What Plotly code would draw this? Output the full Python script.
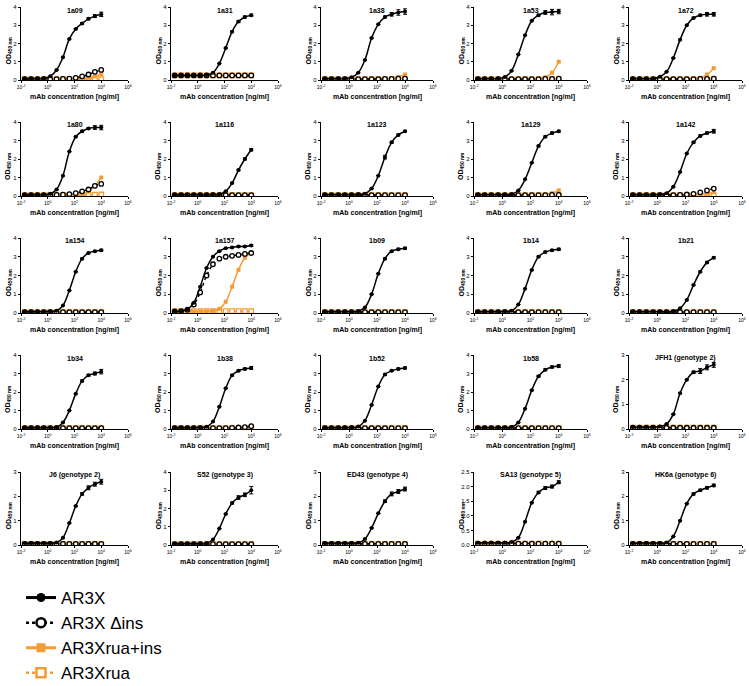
import plotly.graph_objects as go

# ---------------- data ----------------
CONC = [0.0188, 0.0565, 0.169, 0.508, 1.524, 4.572, 13.72, 41.15, 123.5, 370.4, 1111, 3333, 10000]

PANELS = ["1a09", "1a31", "1a38", "1a53", "1a72",
          "1a80", "1a116", "1a123", "1a129", "1a142",
          "1a154", "1a157", "1b09", "1b14", "1b21",
          "1b34", "1b38", "1b52", "1b58", "JFH1 (genotype 2)",
          "J6 (genotype 2)", "S52 (genotype 3)", "ED43 (genotype 4)", "SA13 (genotype 5)", "HK6a (genotype 6)"]

Y_MAX = [4, 4, 4, 4, 4,
         4, 4, 4, 4, 4,
         4, 4, 4, 4, 4,
         4, 4, 4, 4, 3,
         3, 4, 3, 2.5, 3]

Y_TICKS_4 = [0, 1, 2, 3, 4]
Y_TICKS_3 = [0, 1, 2, 3]
Y_TICKS_25 = [0, 0.5, 1.0, 1.5, 2.0, 2.5]
Y_TICKTEXT_25 = ["0.0", "0.5", "1.0", "1.5", "2.0", "2.5"]

X_TICK_VALS = [0.01, 1, 100, 10000, 1000000]
X_TICK_TEXT = ["10<sup>-2</sup>", "10<sup>0</sup>", "10<sup>2</sup>", "10<sup>4</sup>", "10<sup>6</sup>"]

SERIES_NAMES = ["AR3X", "AR3X \u0394ins", "AR3Xrua+ins", "AR3Xrua"]

AR3X = [
    [0.08, 0.08, 0.08, 0.09, 0.20, 0.55, 1.25, 2.25, 2.80, 3.10, 3.35, 3.50, 3.60],  # 1a09
    [0.25, 0.25, 0.25, 0.25, 0.25, 0.27, 0.40, 0.90, 1.75, 2.65, 3.20, 3.45, 3.55],  # 1a31
    [0.08, 0.08, 0.08, 0.08, 0.15, 0.40, 1.10, 2.30, 3.05, 3.45, 3.60, 3.70, 3.75],  # 1a38
    [0.08, 0.08, 0.08, 0.08, 0.16, 0.50, 1.40, 2.45, 3.25, 3.55, 3.70, 3.72, 3.75],  # 1a53
    [0.08, 0.08, 0.08, 0.08, 0.18, 0.45, 1.20, 2.20, 3.00, 3.40, 3.55, 3.60, 3.60],  # 1a72
    [0.08, 0.08, 0.08, 0.08, 0.12, 0.35, 1.10, 2.40, 3.20, 3.50, 3.65, 3.70, 3.70],  # 1a80
    [0.08, 0.08, 0.08, 0.08, 0.08, 0.08, 0.09, 0.10, 0.25, 0.70, 1.40, 2.00, 2.50],  # 1a116
    [0.08, 0.08, 0.08, 0.08, 0.08, 0.09, 0.12, 0.40, 1.10, 2.10, 2.90, 3.30, 3.50],  # 1a123
    [0.08, 0.08, 0.08, 0.08, 0.08, 0.10, 0.30, 0.90, 1.80, 2.70, 3.20, 3.40, 3.50],  # 1a129
    [0.08, 0.08, 0.08, 0.08, 0.09, 0.15, 0.50, 1.30, 2.30, 2.90, 3.25, 3.40, 3.50],  # 1a142
    [0.08, 0.08, 0.08, 0.08, 0.09, 0.12, 0.40, 1.20, 2.20, 2.90, 3.20, 3.30, 3.35],  # 1a154
    [0.08, 0.10, 0.20, 0.55, 1.40, 2.40, 3.00, 3.30, 3.45, 3.50, 3.55, 3.55, 3.60],  # 1a157
    [0.08, 0.08, 0.08, 0.08, 0.08, 0.10, 0.30, 1.00, 2.10, 2.90, 3.30, 3.40, 3.45],  # 1b09
    [0.08, 0.08, 0.08, 0.08, 0.09, 0.12, 0.45, 1.30, 2.30, 3.00, 3.25, 3.35, 3.40],  # 1b14
    [0.08, 0.08, 0.08, 0.08, 0.08, 0.08, 0.10, 0.25, 0.70, 1.50, 2.20, 2.70, 2.95],  # 1b21
    [0.08, 0.08, 0.08, 0.08, 0.08, 0.10, 0.35, 1.00, 1.90, 2.60, 2.90, 3.00, 3.10],  # 1b34
    [0.08, 0.08, 0.08, 0.08, 0.09, 0.12, 0.40, 1.20, 2.20, 2.90, 3.15, 3.25, 3.30],  # 1b38
    [0.08, 0.08, 0.08, 0.08, 0.09, 0.13, 0.45, 1.30, 2.30, 2.95, 3.15, 3.25, 3.30],  # 1b52
    [0.08, 0.08, 0.08, 0.08, 0.08, 0.11, 0.35, 1.10, 2.10, 2.85, 3.20, 3.35, 3.40],  # 1b58
    [0.08, 0.08, 0.08, 0.08, 0.10, 0.20, 0.60, 1.45, 2.00, 2.30, 2.35, 2.50, 2.60],  # JFH1
    [0.08, 0.08, 0.08, 0.08, 0.08, 0.10, 0.30, 0.90, 1.60, 2.10, 2.35, 2.50, 2.60],  # J6
    [0.08, 0.08, 0.08, 0.08, 0.08, 0.10, 0.30, 0.90, 1.70, 2.30, 2.60, 2.75, 3.00],  # S52
    [0.08, 0.08, 0.08, 0.08, 0.08, 0.09, 0.25, 0.70, 1.30, 1.80, 2.10, 2.20, 2.30],  # ED43
    [0.08, 0.08, 0.08, 0.08, 0.08, 0.10, 0.25, 0.80, 1.45, 1.80, 1.95, 2.00, 2.15],  # SA13
    [0.08, 0.08, 0.08, 0.08, 0.08, 0.10, 0.35, 1.00, 1.70, 2.10, 2.25, 2.35, 2.45],  # HK6a
]

# error bars of AR3X at the four highest concentrations
AR3X_ERR_TOP = [
    [0.05, 0.05, 0.08, 0.12], [0.03, 0.04, 0.05, 0.06], [0.05, 0.10, 0.15, 0.15], [0.05, 0.10, 0.15, 0.12],
    [0.04, 0.05, 0.10, 0.10], [0.05, 0.05, 0.10, 0.12], [0.03, 0.04, 0.05, 0.06], [0.10, 0.05, 0.05, 0.05],
    [0.04, 0.04, 0.05, 0.05], [0.04, 0.05, 0.05, 0.10], [0.03, 0.04, 0.04, 0.05], [0.03, 0.04, 0.04, 0.05],
    [0.04, 0.04, 0.05, 0.05], [0.03, 0.04, 0.04, 0.05], [0.03, 0.04, 0.05, 0.05], [0.05, 0.05, 0.08, 0.12],
    [0.04, 0.05, 0.05, 0.08], [0.04, 0.04, 0.05, 0.05], [0.04, 0.05, 0.05, 0.08], [0.05, 0.10, 0.10, 0.10],
    [0.05, 0.08, 0.08, 0.10], [0.05, 0.10, 0.10, 0.20], [0.05, 0.08, 0.08, 0.08], [0.04, 0.05, 0.05, 0.05],
    [0.04, 0.04, 0.05, 0.05],
]

AR3X_DINS = [
    [0.05, 0.05, 0.05, 0.05, 0.05, 0.05, 0.06, 0.08, 0.12, 0.20, 0.30, 0.45, 0.55],  # 1a09
    [0.25, 0.25, 0.25, 0.25, 0.25, 0.25, 0.25, 0.25, 0.25, 0.25, 0.25, 0.25, 0.25],  # 1a31
    [0.05, 0.05, 0.05, 0.05, 0.05, 0.05, 0.05, 0.05, 0.05, 0.06, 0.06, 0.07, 0.08],  # 1a38
    [0.05, 0.05, 0.05, 0.05, 0.05, 0.05, 0.05, 0.05, 0.05, 0.05, 0.06, 0.06, 0.07],  # 1a53
    [0.05, 0.05, 0.05, 0.05, 0.05, 0.05, 0.05, 0.05, 0.05, 0.05, 0.06, 0.06, 0.07],  # 1a72
    [0.05, 0.05, 0.05, 0.05, 0.05, 0.06, 0.07, 0.10, 0.15, 0.25, 0.35, 0.55, 0.65],  # 1a80
    [0.05, 0.05, 0.05, 0.05, 0.05, 0.05, 0.05, 0.05, 0.05, 0.05, 0.05, 0.05, 0.05],  # 1a116
    [0.05, 0.05, 0.05, 0.05, 0.05, 0.05, 0.05, 0.05, 0.05, 0.05, 0.05, 0.05, 0.05],  # 1a123
    [0.05, 0.05, 0.05, 0.05, 0.05, 0.05, 0.05, 0.05, 0.05, 0.05, 0.05, 0.06, 0.06],  # 1a129
    [0.05, 0.05, 0.05, 0.05, 0.05, 0.05, 0.05, 0.06, 0.08, 0.12, 0.20, 0.30, 0.40],  # 1a142
    [0.05, 0.05, 0.05, 0.05, 0.05, 0.05, 0.05, 0.05, 0.05, 0.05, 0.05, 0.05, 0.05],  # 1a154
    [0.08, 0.10, 0.18, 0.45, 1.10, 2.00, 2.60, 2.90, 3.00, 3.05, 3.10, 3.15, 3.20],  # 1a157
    [0.05, 0.05, 0.05, 0.05, 0.05, 0.05, 0.05, 0.05, 0.05, 0.05, 0.05, 0.05, 0.05],  # 1b09
    [0.05, 0.05, 0.05, 0.05, 0.05, 0.05, 0.05, 0.05, 0.05, 0.05, 0.05, 0.05, 0.05],  # 1b14
    [0.05, 0.05, 0.05, 0.05, 0.05, 0.05, 0.05, 0.05, 0.05, 0.05, 0.05, 0.05, 0.05],  # 1b21
    [0.05, 0.05, 0.05, 0.05, 0.05, 0.05, 0.05, 0.05, 0.05, 0.05, 0.05, 0.05, 0.05],  # 1b34
    [0.05, 0.05, 0.05, 0.05, 0.05, 0.05, 0.05, 0.05, 0.05, 0.06, 0.08, 0.10, 0.15],  # 1b38
    [0.05, 0.05, 0.05, 0.05, 0.05, 0.05, 0.05, 0.05, 0.05, 0.05, 0.05, 0.05, 0.05],  # 1b52
    [0.05, 0.05, 0.05, 0.05, 0.05, 0.05, 0.05, 0.05, 0.05, 0.05, 0.05, 0.05, 0.05],  # 1b58
    [0.05, 0.05, 0.05, 0.05, 0.05, 0.05, 0.05, 0.05, 0.05, 0.05, 0.05, 0.05, 0.05],  # JFH1
    [0.05, 0.05, 0.05, 0.05, 0.05, 0.05, 0.05, 0.05, 0.05, 0.05, 0.05, 0.05, 0.05],  # J6
    [0.05, 0.05, 0.05, 0.05, 0.05, 0.05, 0.05, 0.05, 0.05, 0.05, 0.05, 0.05, 0.05],  # S52
    [0.05, 0.05, 0.05, 0.05, 0.05, 0.05, 0.05, 0.05, 0.05, 0.05, 0.05, 0.05, 0.05],  # ED43
    [0.05, 0.05, 0.05, 0.05, 0.05, 0.05, 0.05, 0.05, 0.05, 0.05, 0.05, 0.05, 0.05],  # SA13
    [0.05, 0.05, 0.05, 0.05, 0.05, 0.05, 0.05, 0.05, 0.05, 0.05, 0.05, 0.05, 0.05],  # HK6a
]

AR3XRUA_INS = [
    [0.05, 0.05, 0.05, 0.05, 0.05, 0.05, 0.05, 0.05, 0.06, 0.08, 0.12, 0.20, 0.30],  # 1a09
    [0.25, 0.25, 0.25, 0.25, 0.25, 0.25, 0.25, 0.25, 0.25, 0.25, 0.25, 0.25, 0.25],  # 1a31
    [0.05, 0.05, 0.05, 0.05, 0.05, 0.05, 0.05, 0.05, 0.05, 0.06, 0.10, 0.17, 0.30],  # 1a38
    [0.05, 0.05, 0.05, 0.05, 0.05, 0.05, 0.05, 0.05, 0.05, 0.07, 0.15, 0.40, 1.00],  # 1a53
    [0.05, 0.05, 0.05, 0.05, 0.05, 0.05, 0.05, 0.05, 0.05, 0.06, 0.12, 0.30, 0.65],  # 1a72
    [0.05, 0.05, 0.05, 0.05, 0.05, 0.05, 0.05, 0.05, 0.06, 0.10, 0.25, 0.55, 1.00],  # 1a80
    [0.05, 0.05, 0.05, 0.05, 0.05, 0.05, 0.05, 0.05, 0.05, 0.05, 0.05, 0.05, 0.05],  # 1a116
    [0.05, 0.05, 0.05, 0.05, 0.05, 0.05, 0.05, 0.05, 0.05, 0.05, 0.05, 0.06, 0.07],  # 1a123
    [0.05, 0.05, 0.05, 0.05, 0.05, 0.05, 0.05, 0.05, 0.05, 0.06, 0.08, 0.15, 0.30],  # 1a129
    [0.05, 0.05, 0.05, 0.05, 0.05, 0.05, 0.05, 0.05, 0.05, 0.06, 0.08, 0.12, 0.20],  # 1a142
    [0.05, 0.05, 0.05, 0.05, 0.05, 0.05, 0.05, 0.05, 0.05, 0.05, 0.05, 0.05, 0.05],  # 1a154
    [0.08, 0.08, 0.08, 0.08, 0.08, 0.09, 0.11, 0.22, 0.60, 1.40, 2.30, 2.95, 3.20],  # 1a157
    [0.05, 0.05, 0.05, 0.05, 0.05, 0.05, 0.05, 0.05, 0.05, 0.05, 0.05, 0.05, 0.05],  # 1b09
    [0.05, 0.05, 0.05, 0.05, 0.05, 0.05, 0.05, 0.05, 0.05, 0.05, 0.05, 0.05, 0.05],  # 1b14
    [0.05, 0.05, 0.05, 0.05, 0.05, 0.05, 0.05, 0.05, 0.05, 0.05, 0.05, 0.05, 0.05],  # 1b21
    [0.05, 0.05, 0.05, 0.05, 0.05, 0.05, 0.05, 0.05, 0.05, 0.05, 0.05, 0.05, 0.05],  # 1b34
    [0.05, 0.05, 0.05, 0.05, 0.05, 0.05, 0.05, 0.05, 0.05, 0.05, 0.05, 0.06, 0.07],  # 1b38
    [0.05, 0.05, 0.05, 0.05, 0.05, 0.05, 0.05, 0.05, 0.05, 0.05, 0.05, 0.05, 0.05],  # 1b52
    [0.05, 0.05, 0.05, 0.05, 0.05, 0.05, 0.05, 0.05, 0.05, 0.05, 0.05, 0.05, 0.05],  # 1b58
    [0.05, 0.05, 0.05, 0.05, 0.05, 0.05, 0.05, 0.05, 0.05, 0.05, 0.05, 0.05, 0.05],  # JFH1
    [0.05, 0.05, 0.05, 0.05, 0.05, 0.05, 0.05, 0.05, 0.05, 0.05, 0.05, 0.05, 0.05],  # J6
    [0.05, 0.05, 0.05, 0.05, 0.05, 0.05, 0.05, 0.05, 0.05, 0.05, 0.05, 0.05, 0.05],  # S52
    [0.05, 0.05, 0.05, 0.05, 0.05, 0.05, 0.05, 0.05, 0.05, 0.05, 0.05, 0.05, 0.05],  # ED43
    [0.05, 0.05, 0.05, 0.05, 0.05, 0.05, 0.05, 0.05, 0.05, 0.05, 0.05, 0.05, 0.05],  # SA13
    [0.05, 0.05, 0.05, 0.05, 0.05, 0.05, 0.05, 0.05, 0.05, 0.05, 0.05, 0.05, 0.05],  # HK6a
]

AR3XRUA = [
    [0.05, 0.05, 0.05, 0.05, 0.05, 0.05, 0.05, 0.05, 0.05, 0.05, 0.05, 0.05, 0.05],  # 1a09
    [0.25, 0.25, 0.25, 0.25, 0.25, 0.25, 0.25, 0.25, 0.25, 0.25, 0.25, 0.25, 0.25],  # 1a31
    [0.05, 0.05, 0.05, 0.05, 0.05, 0.05, 0.05, 0.05, 0.05, 0.05, 0.05, 0.05, 0.05],  # 1a38
    [0.05, 0.05, 0.05, 0.05, 0.05, 0.05, 0.05, 0.05, 0.05, 0.05, 0.05, 0.05, 0.05],  # 1a53
    [0.05, 0.05, 0.05, 0.05, 0.05, 0.05, 0.05, 0.05, 0.05, 0.05, 0.05, 0.05, 0.05],  # 1a72
    [0.05, 0.05, 0.05, 0.05, 0.05, 0.05, 0.05, 0.05, 0.05, 0.06, 0.06, 0.07, 0.08],  # 1a80
    [0.05, 0.05, 0.05, 0.05, 0.05, 0.05, 0.05, 0.05, 0.05, 0.05, 0.05, 0.05, 0.05],  # 1a116
    [0.05, 0.05, 0.05, 0.05, 0.05, 0.05, 0.05, 0.05, 0.05, 0.05, 0.05, 0.05, 0.05],  # 1a123
    [0.05, 0.05, 0.05, 0.05, 0.05, 0.05, 0.05, 0.05, 0.05, 0.05, 0.05, 0.05, 0.05],  # 1a129
    [0.05, 0.05, 0.05, 0.05, 0.05, 0.05, 0.05, 0.05, 0.05, 0.05, 0.05, 0.05, 0.05],  # 1a142
    [0.05, 0.05, 0.05, 0.05, 0.05, 0.05, 0.05, 0.05, 0.05, 0.05, 0.05, 0.05, 0.05],  # 1a154
    [0.10, 0.10, 0.10, 0.10, 0.10, 0.10, 0.10, 0.10, 0.10, 0.10, 0.10, 0.10, 0.10],  # 1a157
    [0.05, 0.05, 0.05, 0.05, 0.05, 0.05, 0.05, 0.05, 0.05, 0.05, 0.05, 0.05, 0.05],  # 1b09
    [0.05, 0.05, 0.05, 0.05, 0.05, 0.05, 0.05, 0.05, 0.05, 0.05, 0.05, 0.05, 0.05],  # 1b14
    [0.05, 0.05, 0.05, 0.05, 0.05, 0.05, 0.05, 0.05, 0.05, 0.05, 0.05, 0.05, 0.05],  # 1b21
    [0.05, 0.05, 0.05, 0.05, 0.05, 0.05, 0.05, 0.05, 0.05, 0.05, 0.05, 0.05, 0.05],  # 1b34
    [0.05, 0.05, 0.05, 0.05, 0.05, 0.05, 0.05, 0.05, 0.05, 0.05, 0.05, 0.05, 0.05],  # 1b38
    [0.05, 0.05, 0.05, 0.05, 0.05, 0.05, 0.05, 0.05, 0.05, 0.05, 0.05, 0.05, 0.05],  # 1b52
    [0.05, 0.05, 0.05, 0.05, 0.05, 0.05, 0.05, 0.05, 0.05, 0.05, 0.05, 0.05, 0.05],  # 1b58
    [0.05, 0.05, 0.05, 0.05, 0.05, 0.05, 0.05, 0.05, 0.05, 0.05, 0.05, 0.05, 0.05],  # JFH1
    [0.05, 0.05, 0.05, 0.05, 0.05, 0.05, 0.05, 0.05, 0.05, 0.05, 0.05, 0.05, 0.05],  # J6
    [0.05, 0.05, 0.05, 0.05, 0.05, 0.05, 0.05, 0.05, 0.05, 0.05, 0.05, 0.05, 0.05],  # S52
    [0.05, 0.05, 0.05, 0.05, 0.05, 0.05, 0.05, 0.05, 0.05, 0.05, 0.05, 0.05, 0.05],  # ED43
    [0.05, 0.05, 0.05, 0.05, 0.05, 0.05, 0.05, 0.05, 0.05, 0.05, 0.05, 0.05, 0.05],  # SA13
    [0.05, 0.05, 0.05, 0.05, 0.05, 0.05, 0.05, 0.05, 0.05, 0.05, 0.05, 0.05, 0.05],  # HK6a
]

# ---------------- layout / style ----------------
W, H = 749, 686
COL_PX = [(21, 128), (171, 278), (321, 433), (474, 587), (629, 742)]
ROW_PX = [(7, 80), (122, 196), (238, 313), (355, 429), (472, 545)]
BLACK = "#000000"
ORANGE = "#F39C35"
FONT = "Liberation Sans, Arial, sans-serif"

STYLES = [
    dict(line=dict(color=BLACK, width=1.5, shape="spline", dash="solid"),
         marker=dict(symbol="circle", size=4, color=BLACK)),
    dict(line=dict(color=BLACK, width=1.5, shape="spline", dash="dot"),
         marker=dict(symbol="circle", size=4.5, color="white", line=dict(color=BLACK, width=1.3))),
    dict(line=dict(color=ORANGE, width=1.5, shape="spline", dash="solid"),
         marker=dict(symbol="square", size=4, color=ORANGE)),
    dict(line=dict(color=ORANGE, width=1.5, shape="spline", dash="dot"),
         marker=dict(symbol="square", size=4.5, color="white", line=dict(color=ORANGE, width=1.3))),
]

fig = go.Figure()
layout = {}
annotations = []

for i, name in enumerate(PANELS):
    r, c = divmod(i, 5)
    k = i + 1
    xs = "" if k == 1 else str(k)
    xref, yref = "x" + xs, "y" + xs
    x0, x1 = COL_PX[c]
    t0, b0 = ROW_PX[r]
    xdom = [x0 / W, x1 / W]
    ydom = [1 - b0 / H, 1 - t0 / H]

    series = [AR3X[i], AR3X_DINS[i], AR3XRUA_INS[i], AR3XRUA[i]]
    for s in (3, 2, 1, 0):
        tr = dict(x=CONC, y=series[s], mode="lines+markers", xaxis=xref, yaxis=yref,
                  showlegend=False, hoverinfo="skip", **STYLES[s])
        if s == 0:
            err = [0] * (len(CONC) - 4) + AR3X_ERR_TOP[i]
            tr["error_y"] = dict(type="data", array=err, color=BLACK, thickness=1, width=2)
        fig.add_trace(go.Scatter(**tr))

    ymax = Y_MAX[i]
    if ymax == 4:
        yt, ytt = Y_TICKS_4, [str(v) for v in Y_TICKS_4]
    elif ymax == 3:
        yt, ytt = Y_TICKS_3, [str(v) for v in Y_TICKS_3]
    else:
        yt, ytt = Y_TICKS_25, Y_TICKTEXT_25

    layout["xaxis" + xs] = dict(domain=xdom, anchor=yref, type="log", range=[-2, 6],
                                tickvals=X_TICK_VALS, ticktext=X_TICK_TEXT,
                                showline=True, linecolor=BLACK, linewidth=1.3,
                                ticks="outside", ticklen=2, tickwidth=1, tickcolor=BLACK,
                                tickfont=dict(size=5, family=FONT, color=BLACK),
                                showgrid=False, zeroline=False, fixedrange=True, automargin=False)
    layout["yaxis" + xs] = dict(domain=ydom, anchor=xref, range=[0, ymax],
                                tickvals=yt, ticktext=ytt,
                                showline=True, linecolor=BLACK, linewidth=1.3,
                                ticks="outside", ticklen=2, tickwidth=1, tickcolor=BLACK,
                                tickfont=dict(size=6, family=FONT, color=BLACK),
                                showgrid=False, zeroline=False, fixedrange=True, automargin=False)

    cx = (x0 + x1) / 2 / W
    annotations.append(dict(text="<b>%s</b>" % name, x=cx, y=1 - (t0 + 3) / H, xref="paper", yref="paper",
                            showarrow=False, xanchor="center", yanchor="middle",
                            font=dict(size=7, family=FONT, color=BLACK)))
    annotations.append(dict(text="<b>mAb concentration [ng/ml]</b>", x=cx, y=1 - (b0 + 17) / H,
                            xref="paper", yref="paper", showarrow=False, xanchor="center", yanchor="middle",
                            font=dict(size=7, family=FONT, color=BLACK)))
    annotations.append(dict(text="<b>OD<sub>450 nm</sub></b>", x=(x0 - 13) / W, y=1 - ((t0 + b0) / 2 + 7) / H,
                            xref="paper", yref="paper", showarrow=False, xanchor="center", yanchor="middle",
                            textangle=-90, font=dict(size=7, family=FONT, color=BLACK)))

# legend-only entries
for s in range(4):
    st = STYLES[s]
    lw = 3 if s in (0, 2) else 2.5
    mk = dict(st["marker"])
    mk["size"] = 9
    if "line" in mk:
        mk["line"] = dict(color=mk["line"]["color"], width=2.5)
    fig.add_trace(go.Scatter(x=[None], y=[None], mode="lines+markers", name=SERIES_NAMES[s],
                             line=dict(color=st["line"]["color"], width=lw, dash=st["line"]["dash"]),
                             marker=mk, legendgroup="g%d" % s, showlegend=True))

fig.update_layout(
    width=W, height=H, margin=dict(l=0, r=0, t=0, b=0, autoexpand=False),
    paper_bgcolor="white", plot_bgcolor="white",
    font=dict(family=FONT, color=BLACK),
    annotations=annotations,
    hovermode=False,
    legend=dict(x=21 / W, y=1 - 580 / H, xanchor="left", yanchor="top",
                font=dict(size=17, family=FONT, color=BLACK), bgcolor="rgba(0,0,0,0)",
                tracegroupgap=0, itemwidth=30),
    **layout,
)

fig.write_html("out.html", config={"displayModeBar": False, "staticPlot": True},
               post_script="document.body.style.margin='0px';document.body.style.overflow='hidden';")
